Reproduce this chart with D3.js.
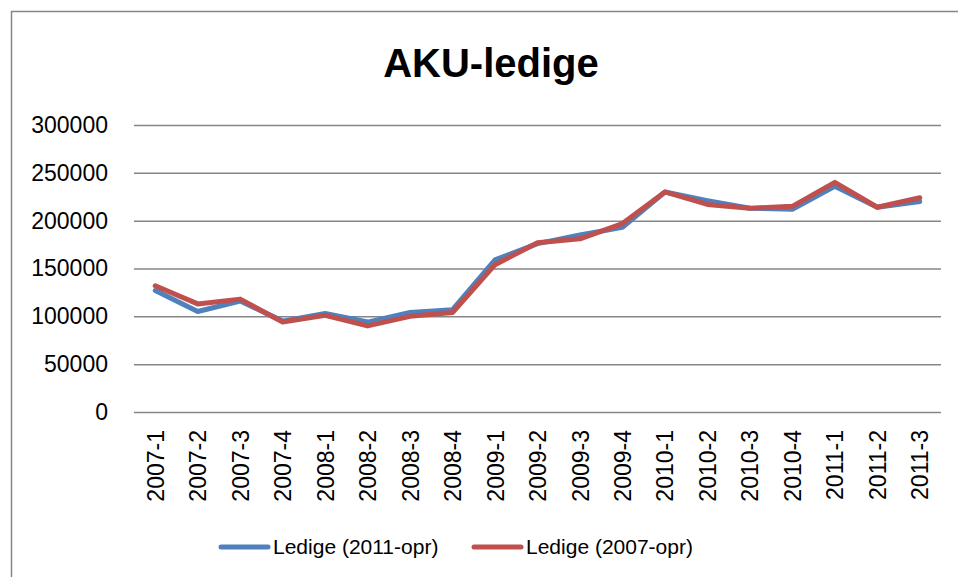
<!DOCTYPE html>
<html>
<head>
<meta charset="utf-8">
<script src="https://cdn.jsdelivr.net/npm/d3@7"></script>
<style>
  body { margin: 0; background: #fff; }
  text { font-family: "Liberation Sans", Arial, sans-serif; fill: #000; }
</style>
</head>
<body>
<svg id="chart"></svg>
<script>
// quarters on the x axis
const quarters = ["2007-1", "2007-2", "2007-3", "2007-4", "2008-1", "2008-2", "2008-3", "2008-4",
  "2009-1", "2009-2", "2009-3", "2009-4", "2010-1", "2010-2", "2010-3", "2010-4",
  "2011-1", "2011-2", "2011-3"];
// values
const ledige2011 = [127000, 105000, 116000, 95000, 103000, 94000, 104000, 107000,
  159000, 176000, 185000, 193000, 230000, 221000, 213000, 212000,
  236000, 214000, 220000];
const ledige2007 = [132000, 113000, 118000, 94000, 101000, 90000, 100000, 104000,
  154000, 177000, 181000, 197000, 230000, 217000, 213000, 215000,
  240000, 214000, 224000];
const yTicks = [0, 50000, 100000, 150000, 200000, 250000, 300000];
const seriesNames = ["Ledige (2011-opr)", "Ledige (2007-opr)"];
const seriesColors = ["#4F81BD", "#C0504D"];

const w = 958, h = 577;
const svg = d3.select("#chart").attr("width", w).attr("height", h);

// outer chart border (right and bottom are outside the picture)
svg.append("rect")
  .attr("x", 11.5).attr("y", 11.5)
  .attr("width", 960).attr("height", 580)
  .attr("fill", "none").attr("stroke", "#868686").attr("stroke-width", 1.5);

// title
svg.append("text")
  .attr("x", 491).attr("y", 77)
  .attr("text-anchor", "middle")
  .style("font-size", "40px").style("font-weight", "bold")
  .text("AKU-ledige");

// scales
const xScale = d3.scalePoint(quarters, [134, 941]).padding(0.5);
const yScale = d3.scaleLinear([0, 300000], [412, 125]);

// y axis: gridlines + labels
const yAxis = d3.axisLeft(yScale)
  .tickValues(yTicks)
  .tickFormat(d3.format("d"))
  .tickSize(-(941 - 134))
  .tickPadding(26);
const gy = svg.append("g").attr("transform", "translate(134,0)").call(yAxis);
gy.select(".domain").remove();
gy.selectAll(".tick line").attr("stroke", "#868686").attr("stroke-width", 1.5);
gy.selectAll(".tick text").style("font-size", "23px").attr("font-family", null);

// x axis labels (rotated)
const xAxis = d3.axisBottom(xScale).tickSize(0);
const gx = svg.append("g").attr("transform", "translate(0,412)").call(xAxis);
gx.select(".domain").remove();
gx.selectAll(".tick text")
  .attr("font-family", null)
  .style("font-size", "23px")
  .attr("transform", "rotate(-90)")
  .attr("text-anchor", "end")
  .attr("x", -18).attr("y", 0).attr("dy", "0.35em");

// lines
const line = d3.line()
  .x((d, i) => xScale(quarters[i]))
  .y(d => yScale(d));

[ledige2011, ledige2007].forEach((vals, k) => {
  svg.append("path")
    .datum(vals)
    .attr("fill", "none")
    .attr("stroke", seriesColors[k])
    .attr("stroke-width", 5)
    .attr("stroke-linejoin", "round")
    .attr("stroke-linecap", "round")
    .attr("d", line);
});

// legend
const legendX = [221, 474];
seriesNames.forEach((name, k) => {
  const g = svg.append("g").attr("transform", "translate(" + legendX[k] + ",547)");
  g.append("line")
    .attr("x1", 0).attr("x2", 47)
    .attr("stroke", seriesColors[k]).attr("stroke-width", 5)
    .attr("stroke-linecap", "round");
  g.append("text")
    .attr("x", 52).attr("dy", "0.35em")
    .style("font-size", "21px")
    .text(name);
});
</script>
</body>
</html>
